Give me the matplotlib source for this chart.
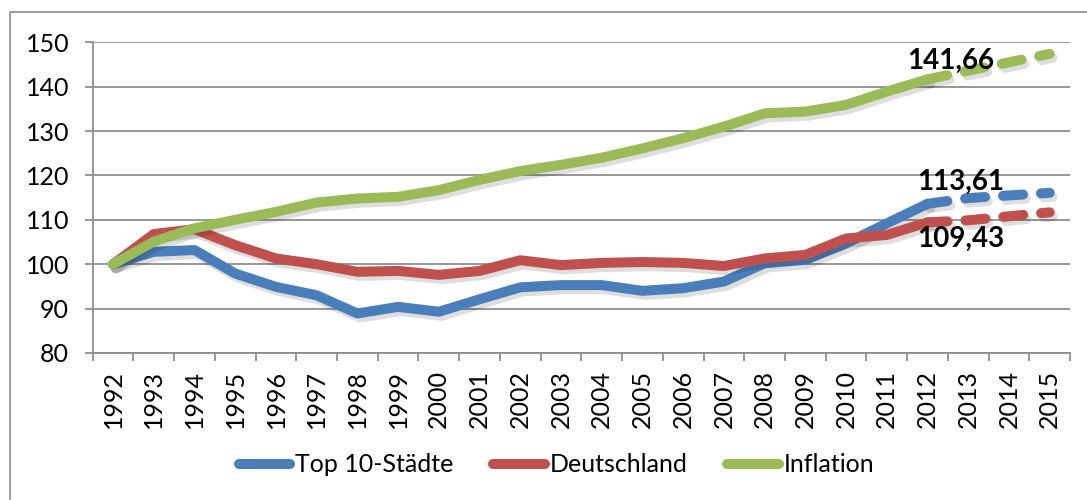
import matplotlib
matplotlib.use('Agg')
import matplotlib.pyplot as plt
import matplotlib.patheffects as pe
from matplotlib.lines import Line2D
import numpy as np

plt.rcParams['font.family'] = ['Lato', 'DejaVu Sans']

# Indexwerte 1992 = 100
years = ['1992', '1993', '1994', '1995', '1996', '1997', '1998', '1999',
         '2000', '2001', '2002', '2003', '2004', '2005', '2006', '2007',
         '2008', '2009', '2010', '2011', '2012', '2013', '2014', '2015']

# 1992 - 2012
top10 = [100, 102.8, 103.2, 97.9, 94.9, 93.0, 88.9, 90.4, 89.3, 92.1, 94.8,
         95.3, 95.3, 94.0, 94.6, 96.1, 100.2, 101.0, 104.7, 109.2, 113.61]
deutschland = [100, 106.8, 107.9, 104.3, 101.3, 100.0, 98.3, 98.5, 97.6, 98.5, 100.9,
               99.8, 100.3, 100.5, 100.3, 99.6, 101.3, 102.1, 105.8, 106.6, 109.43]
inflation = [100, 105.1, 108.1, 110.0, 111.8, 113.9, 114.8, 115.2, 116.7, 119.0, 121.0,
             122.4, 124.0, 126.1, 128.4, 131.0, 134.0, 134.4, 135.9, 138.9, 141.66]

# Prognose 2012 - 2015 (gestrichelt)
top10_prog = [113.61, 114.9, 115.5, 116.1]
deutschland_prog = [109.43, 109.9, 110.8, 111.7]
inflation_prog = [141.66, 143.6, 145.5, 147.4]

labels = ['Top 10-Städte', 'Deutschland', 'Inflation']
colors = ['#4A7EBB', '#C0504D', '#9BBB59']
grey = '#8f8f8f'

fig = plt.figure(figsize=(10.87, 5.0), dpi=100)
ax = fig.add_axes([0.0853, 0.294, 0.8991, 0.6214])

shadow = [pe.SimpleLineShadow(offset=(2, -3), shadow_color='black', alpha=0.13), pe.Normal()]

series = [(top10, top10_prog), (deutschland, deutschland_prog), (inflation, inflation_prog)]
handles = []
for (hist, prog), c, lab in zip(series, colors, labels):
    ax.plot(years[:len(hist)], hist, color=c, lw=7.2, solid_capstyle='round',
            solid_joinstyle='round', path_effects=shadow, label=lab)
    ax.plot(years[len(hist) - 1:], prog, color=c, lw=7.2, dashes=(2, 1.8),
            dash_capstyle='round', path_effects=shadow)
    handles.append(Line2D([], [], color=c, lw=7.2, solid_capstyle='round'))

i12 = years.index('2012')
lab_kw = dict(textcoords='offset pixels', ha='center', va='center',
              fontsize=20, fontweight='bold', color='black')
ax.annotate('141,66', xy=(i12, inflation[-1]), xytext=(23, 18), **lab_kw)
ax.annotate('113,61', xy=(i12, top10[-1]), xytext=(33, 22), **lab_kw)
ax.annotate('109,43', xy=(i12, deutschland[-1]), xytext=(33, -16), **lab_kw)

ax.set_xlim(-0.5, len(years) - 0.5)
ax.set_ylim(80, 150)
ax.set_yticks(np.arange(80, 151, 10))
ax.set_xticks(np.arange(-0.5, len(years), 1), minor=True)
ax.tick_params(axis='x', which='major', length=0, pad=12, labelrotation=90, labelsize=18)
ax.tick_params(axis='x', which='minor', length=6, width=1.3, color=grey)
ax.tick_params(axis='y', length=6, width=1.3, color=grey, pad=11, labelsize=18)
ax.grid(axis='y', color=grey, lw=1.3)
ax.set_axisbelow(True)
for s in ['top', 'right']:
    ax.spines[s].set_visible(False)
for s in ['left', 'bottom']:
    ax.spines[s].set_color(grey)
    ax.spines[s].set_linewidth(1.3)

fig.legend(handles, labels, loc='center', bbox_to_anchor=(0.512, 0.07), ncol=3,
           frameon=False, fontsize=18, handlelength=2.05, handletextpad=0.2,
           columnspacing=1.6)

# Rahmen (nur links und oben sichtbar)
fig.add_artist(Line2D([10 / 1087, 10 / 1087, 1], [0, 488 / 500, 488 / 500],
                      transform=fig.transFigure, color='#8c8c8c', lw=1.2))

fig.savefig('out.png', dpi=100)
